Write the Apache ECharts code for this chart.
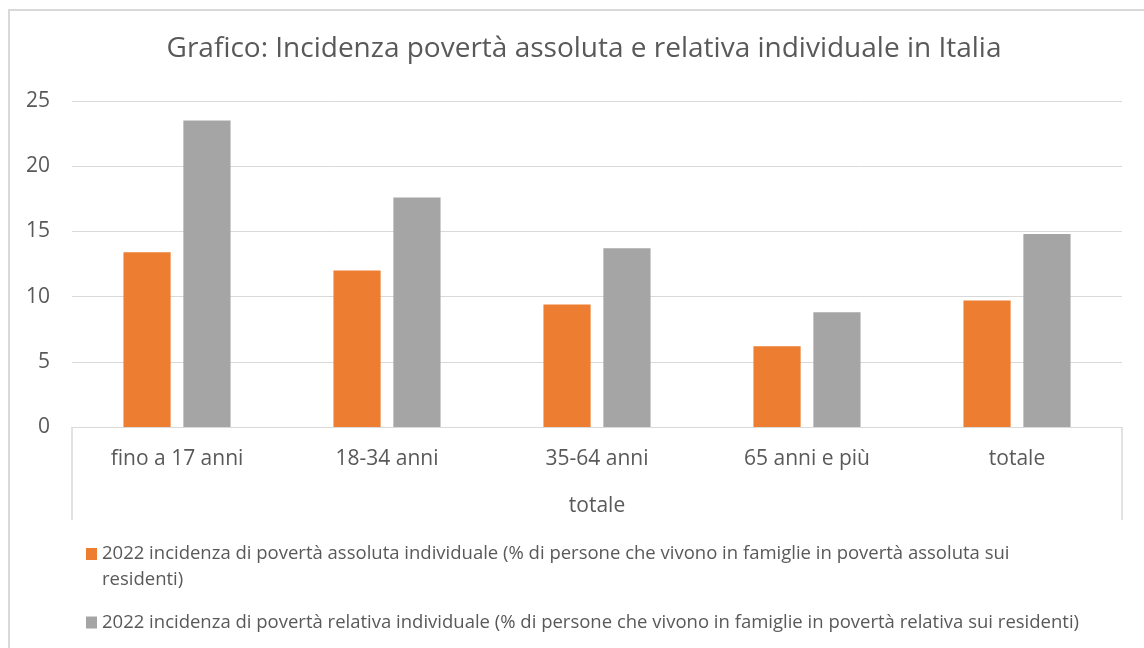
<!DOCTYPE html>
<html>
<head>
<meta charset="utf-8">
<script src="https://cdn.jsdelivr.net/npm/echarts@6/dist/echarts.min.js"></script>
<style>
  body { margin: 0; background: #fff; }
  #frame { position: absolute; left: 8px; top: 9px; width: 1200px; height: 700px;
           border-left: 2px solid #d9d9d9; border-top: 2px solid #d9d9d9; }
  #main { position: absolute; left: 0; top: 0; width: 1144px; height: 648px; }
</style>
</head>
<body>
<div id="frame"></div>
<div id="main"></div>
<script>
// categorie (asse x) e gruppo di secondo livello
var categorie = ["fino a 17 anni", "18-34 anni", "35-64 anni", "65 anni e più", "totale"];
var gruppo = ["totale"];
// valori
var assoluta = [13.4, 12.0, 9.4, 6.2, 9.7];
var relativa = [23.5, 17.6, 13.7, 8.8, 14.8];
var nomeAssoluta = "2022 incidenza di povertà assoluta individuale (% di persone che vivono in famiglie in povertà assoluta sui residenti)";
var nomeRelativa = "2022 incidenza di povertà relativa individuale (% di persone che vivono in famiglie in povertà relativa sui residenti)";

var font = "Open Sans";
var grigioTesto = "#595959";

var chart = echarts.init(document.getElementById("main"));

var option = {
  animation: false,
  title: {
    text: "Grafico: Incidenza povertà assoluta e relativa individuale in Italia",
    left: 579,
    textAlign: "center",
    top: 30,
    textStyle: { fontFamily: font, fontSize: 28, fontWeight: "normal", color: grigioTesto }
  },
  grid: { left: 72, right: 22, top: 101, bottom: 221 },
  legend: [
    {
      data: [nomeAssoluta],
      orient: "vertical",
      left: 81,
      top: 536,
      itemWidth: 11,
      itemHeight: 38,
      // quadrato in alto, il resto vuoto per allineare l'icona alla prima riga
      icon: "path://M0,0L11,0L11,12L0,12Z M0,38L0.01,38",
      formatter: function () {
        return "2022 incidenza di povertà assoluta individuale (% di persone che vivono in famiglie in povertà assoluta sui\nresidenti)";
      },
      textStyle: { fontFamily: font, fontSize: 18.5, color: grigioTesto, lineHeight: 26 }
    },
    {
      data: [nomeRelativa],
      orient: "vertical",
      left: 81,
      top: 608,
      itemWidth: 11,
      itemHeight: 12,
      icon: "rect",
      textStyle: { fontFamily: font, fontSize: 18.5, color: grigioTesto }
    }
  ],
  xAxis: [
    {
      type: "category",
      data: categorie,
      axisLine: { lineStyle: { color: "#d9d9d9", width: 1 } },
      axisTick: { show: false },
      axisLabel: { margin: 22, fontFamily: font, fontSize: 21, color: grigioTesto, interval: 0 }
    },
    {
      type: "category",
      data: gruppo,
      position: "bottom",
      axisLine: { show: false },
      axisTick: { show: true, length: 93, lineStyle: { color: "#d9d9d9", width: 1.5 } },
      axisLabel: { margin: 69, fontFamily: font, fontSize: 21, color: grigioTesto }
    }
  ],
  yAxis: {
    type: "value",
    min: 0,
    max: 25,
    interval: 5,
    axisLine: { show: false },
    axisTick: { show: false },
    axisLabel: { margin: 22, fontFamily: font, fontSize: 21, color: grigioTesto },
    splitLine: { lineStyle: { color: "#d9d9d9", width: 1 } }
  },
  series: [
    {
      name: nomeAssoluta,
      type: "bar",
      data: assoluta,
      barGap: "27%",
      barCategoryGap: "49%",
      itemStyle: { color: "#ed7d31" }
    },
    {
      name: nomeRelativa,
      type: "bar",
      data: relativa,
      barGap: "27%",
      barCategoryGap: "49%",
      itemStyle: { color: "#a5a5a5" }
    }
  ]
};

chart.setOption(option);
</script>
</body>
</html>
